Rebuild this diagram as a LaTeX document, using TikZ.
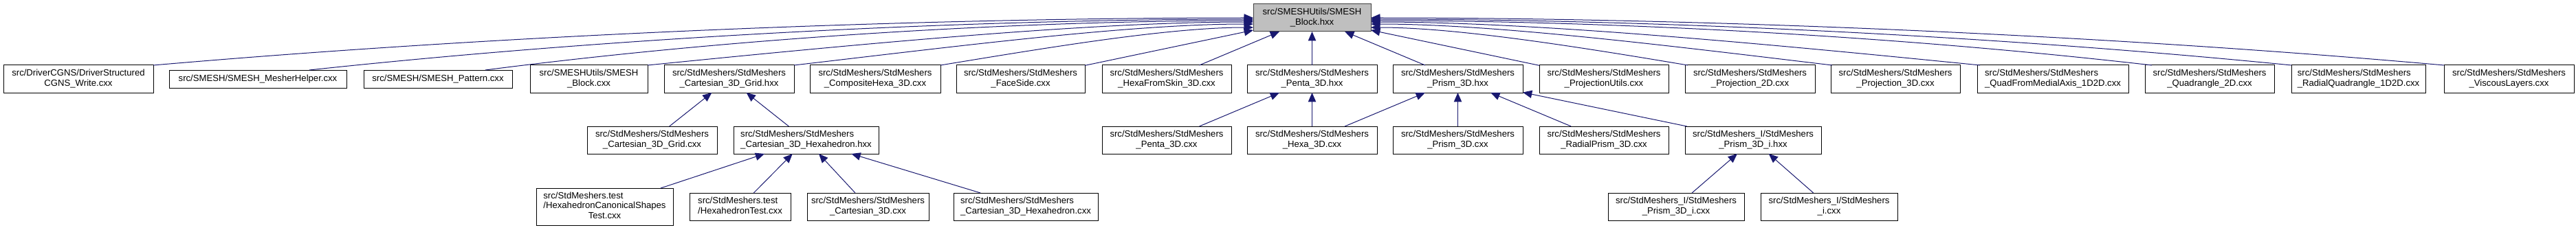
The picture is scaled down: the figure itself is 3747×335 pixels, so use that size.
\documentclass[tikz,border=0pt]{standalone}
\usepackage{fontspec}
\setmainfont{Liberation Sans}
\usetikzlibrary{arrows.meta,calc}
\definecolor{navy}{HTML}{191970}
\definecolor{rootfill}{HTML}{BFBFBF}
\definecolor{rootline}{HTML}{404040}
\newcommand\mknode[7][]{\node[nd,#1,minimum width={(#5-#3)*0.75pt},minimum height={(#6-#4)*0.75pt}] (#2) at ({(#3+#5)/2},{(#4+#6)/2}) {#7};}
\newcommand\twol[2]{\begin{tabular}{@{}l@{}}#1\\\multicolumn{1}{@{}c@{}}{#2}\end{tabular}}
\newcommand\threel[3]{\begin{tabular}{@{}l@{}}#1\\#2\\\multicolumn{1}{@{}c@{}}{#3}\end{tabular}}
\newcommand\SM{src/StdMeshers/StdMeshers}
\newcommand\SMI{src/StdMeshers\_I/StdMeshers}
\begin{document}
\begin{tikzpicture}[x=0.75pt,y=-0.75pt,
  font=\fontsize{9.85}{10.9}\selectfont,
  nd/.style={draw=black,fill=white,line width=0.75pt,rectangle,inner sep=1pt,outer sep=0pt},
  rootnd/.style={draw=rootline,fill=rootfill},
  lnk/.style={draw=navy,line width=0.75pt,-{Triangle[length=10pt,width=8.5pt]}}]
\useasboundingbox (0,0) rectangle (3747,335);
% root
\mknode[rootnd]{root}{1823}{6}{1994}{46}{\twol{src/SMESHUtils/SMESH}{\_Block.hxx}}
% row 1
\mknode{r1}{5}{95}{223}{135}{\twol{src/DriverCGNS/DriverStructured}{CGNS\_Write.cxx}}
\mknode{r2}{246}{102}{504}{128}{src/SMESH/SMESH\_MesherHelper.cxx}
\mknode{r3}{529}{102}{745}{128}{src/SMESH/SMESH\_Pattern.cxx}
\mknode{r4}{771}{95}{942}{135}{\twol{src/SMESHUtils/SMESH}{\_Block.cxx}}
\mknode{r5}{966}{95}{1155}{135}{\twol{\SM}{\_Cartesian\_3D\_Grid.hxx}}
\mknode{r6}{1178}{95}{1368}{135}{\twol{\SM}{\_CompositeHexa\_3D.cxx}}
\mknode{r7}{1391}{95}{1578}{135}{\twol{\SM}{\_FaceSide.cxx}}
\mknode{r8}{1603}{95}{1791}{135}{\twol{\SM}{\_HexaFromSkin\_3D.cxx}}
\mknode{r9}{1814}{95}{2003}{135}{\twol{\SM}{\_Penta\_3D.hxx}}
\mknode{r10}{2026}{95}{2215}{135}{\twol{\SM}{\_Prism\_3D.hxx}}
\mknode{r11}{2239}{95}{2427}{135}{\twol{\SM}{\_ProjectionUtils.cxx}}
\mknode{r12}{2451}{95}{2640}{135}{\twol{\SM}{\_Projection\_2D.cxx}}
\mknode{r13}{2663}{95}{2851}{135}{\twol{\SM}{\_Projection\_3D.cxx}}
\mknode{r14}{2876}{95}{3096}{135}{\twol{\SM}{\_QuadFromMedialAxis\_1D2D.cxx}}
\mknode{r15}{3120}{95}{3308}{135}{\twol{\SM}{\_Quadrangle\_2D.cxx}}
\mknode{r16}{3333}{95}{3528}{135}{\twol{\SM}{\_RadialQuadrangle\_1D2D.cxx}}
\mknode{r17}{3555}{95}{3744}{135}{\twol{\SM}{\_ViscousLayers.cxx}}
% row 2
\mknode{g1}{854}{184}{1043}{224}{\twol{\SM}{\_Cartesian\_3D\_Grid.cxx}}
\mknode{g2}{1067}{184}{1278}{224}{\twol{\SM}{\_Cartesian\_3D\_Hexahedron.hxx}}
\mknode{p1}{1603}{184}{1791}{224}{\twol{\SM}{\_Penta\_3D.cxx}}
\mknode{h1}{1814}{184}{2003}{224}{\twol{\SM}{\_Hexa\_3D.cxx}}
\mknode{p2}{2026}{184}{2215}{224}{\twol{\SM}{\_Prism\_3D.cxx}}
\mknode{rp}{2239}{184}{2427}{224}{\twol{\SM}{\_RadialPrism\_3D.cxx}}
\mknode{pi}{2451}{184}{2649}{224}{\twol{\SMI}{\_Prism\_3D\_i.hxx}}
% row 3
\mknode{t1}{780}{274}{979}{328}{\threel{src/StdMeshers.test}{/HexahedronCanonicalShapes}{Test.cxx}}
\mknode{t2}{1003}{281}{1150}{321}{\twol{src/StdMeshers.test}{/HexahedronTest.cxx}}
\mknode{t3}{1174}{281}{1351}{321}{\twol{\SM}{\_Cartesian\_3D.cxx}}
\mknode{t4}{1387}{281}{1597}{321}{\twol{\SM}{\_Cartesian\_3D\_Hexahedron.cxx}}
\mknode{i1}{2339}{281}{2537}{321}{\twol{\SMI}{\_Prism\_3D\_i.cxx}}
\mknode{i2}{2561}{281}{2760}{321}{\twol{\SMI}{\_i.cxx}}
% curved edges to root, left side
\draw[lnk] (r1.north east) .. controls (800,45) and (1400,26) .. (root.west);
\draw[lnk] ($(r2.north)+(75,0)$) .. controls (944,49) and (1459,28) .. ($(root.west)+(0,2)$);
\draw[lnk] ($(r3.north)+(69,0)$) .. controls (1108,50) and (1527,30) .. ($(root.west)+(0,4)$);
\draw[lnk] (r4.north east) .. controls (1260,63) and (1590,32) .. ($(root.west)+(0,6)$);
\draw[lnk] (r5.north east) .. controls (1395,67) and (1646,35) .. ($(root.west)+(0,9)$);
\draw[lnk] (r6.north east) .. controls (1520,70) and (1698,40) .. ($(root.west)+(0,14)$);
% straight edges to root
\draw[lnk] (r7) -- (root);
\draw[lnk] (r8) -- (root);
\draw[lnk] (r9) -- (root);
\draw[lnk] (r10) -- (root);
\draw[lnk] (r11) -- (root);
% curved edges to root, right side
\draw[lnk] ($(r12.north west)+(4,0)$) .. controls (2289,67) and (2116,40) .. ($(root.east)+(0,14)$);
\draw[lnk] ($(r13.north west)+(2,0)$) .. controls (2423,66) and (2172,35) .. ($(root.east)+(0,9)$);
\draw[lnk] ($(r14.north west)+(4,0)$) .. controls (2561,63) and (2229,32) .. ($(root.east)+(0,6)$);
\draw[lnk] ($(r15.north west)+(10,0)$) .. controls (2721,48) and (2295,30) .. ($(root.east)+(0,4)$);
\draw[lnk] (r16.north west) .. controls (2851,47) and (2349,28) .. ($(root.east)+(0,2)$);
\draw[lnk] (r17.north west) .. controls (2993,45) and (2408,26) .. (root.east);
% lower levels
\draw[lnk] (g1) -- (r5);
\draw[lnk] (g2) -- (r5);
\draw[lnk] (t1) -- (g2);
\draw[lnk] (t2) -- (g2);
\draw[lnk] (t3) -- (g2);
\draw[lnk] (t4) -- (g2);
\draw[lnk] (p1) -- (r9);
\draw[lnk] (h1) -- (r9);
\draw[lnk] (h1) -- (r10);
\draw[lnk] (p2) -- (r10);
\draw[lnk] (rp) -- (r10);
\draw[lnk] (pi) -- (r10);
\draw[lnk] (i1) -- (pi);
\draw[lnk] (i2) -- (pi);
\end{tikzpicture}
\end{document}
